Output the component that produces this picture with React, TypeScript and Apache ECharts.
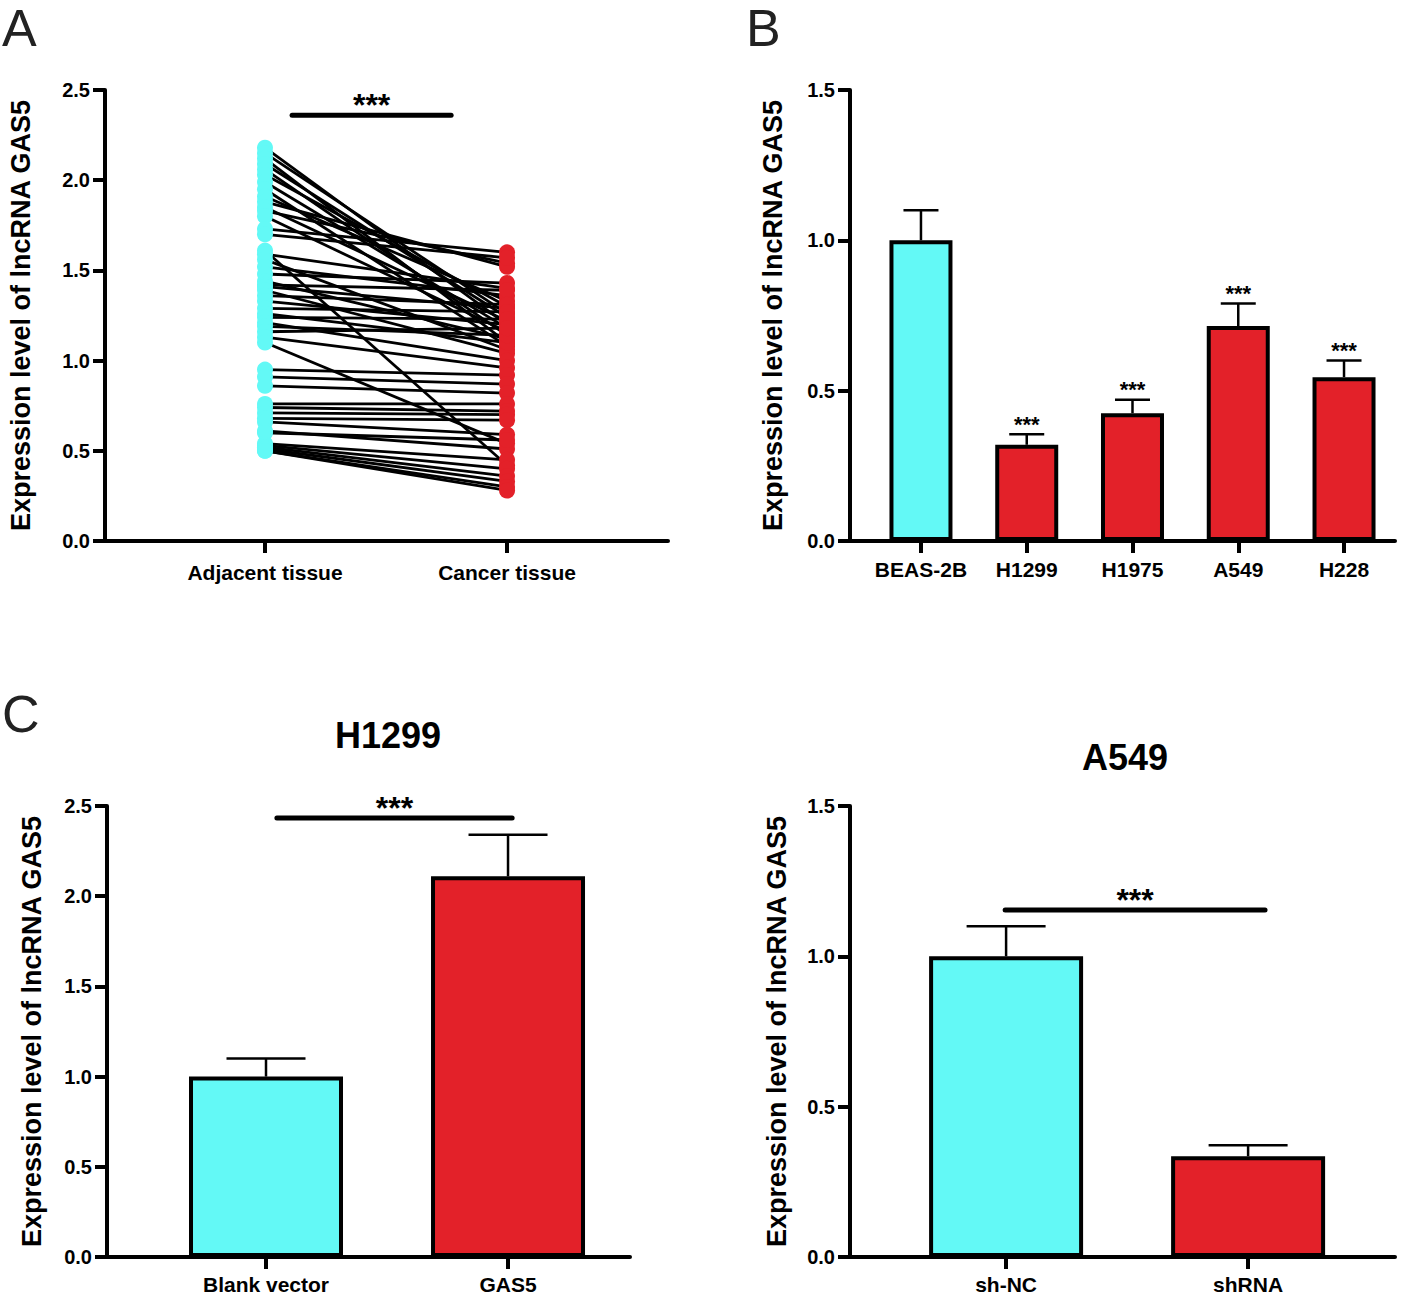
import React, { useEffect, useRef } from "react";
import * as echarts from "echarts";

// ---------- Panel A: paired tissue values ----------
const tissueCategories = ["Adjacent tissue", "Cancer tissue"];
const adjacentValues = [
  2.18, 2.15, 2.12, 2.09, 2.06, 2.03, 1.99, 1.95, 1.91, 1.88, 1.85, 1.83, 1.8,
  1.73, 1.7, 1.61, 1.59, 1.56, 1.52, 1.48, 1.44, 1.42, 1.41, 1.39, 1.36, 1.33,
  1.29, 1.26, 1.24, 1.21, 1.19, 1.16, 1.13, 1.1, 0.95, 0.91, 0.86, 0.76, 0.74,
  0.71, 0.68, 0.66, 0.61, 0.6, 0.54, 0.53, 0.52, 0.51, 0.5, 0.5,
];
const cancerValues = [
  1.2, 1.26, 1.1, 1.24, 1.14, 1.3, 1.18, 1.08, 1.33, 1.52, 1.22, 1.54, 1.16,
  1.6, 1.57, 0.42, 1.4, 1.06, 1.36, 1.43, 1.12, 1.39, 1.29, 1.04, 1.31, 1.2,
  1.27, 1.1, 1.23, 1.0, 1.14, 1.18, 0.96, 0.54, 0.92, 0.87, 0.82, 0.76, 0.72,
  0.7, 0.67, 0.59, 0.51, 0.56, 0.45, 0.4, 0.36, 0.33, 0.3, 0.28,
];

// ---------- Panel B: cell lines ----------
const cellLines = ["BEAS-2B", "H1299", "H1975", "A549", "H228"];
const cellMeans = [1.0, 0.32, 0.425, 0.715, 0.545];
const cellErrors = [0.1, 0.035, 0.045, 0.075, 0.055];
const cellStars = ["", "***", "***", "***", "***"];

// ---------- Panel C: H1299 ----------
const h1299Groups = ["Blank vector", "GAS5"];
const h1299Means = [1.0, 2.11];
const h1299Errors = [0.1, 0.23];

// ---------- Panel C: A549 ----------
const a549Groups = ["sh-NC", "shRNA"];
const a549Means = [1.0, 0.335];
const a549Errors = [0.1, 0.037];

const CYAN = "#63F9F6";
const RED = "#E32129";
const FONT = '"Liberation Sans", Arial, Helvetica, sans-serif';
const Y_TITLE = "Expression level of lncRNA GAS5";

function yAxis(gridIndex: number, max: number, gap: number) {
  return {
    type: "value",
    gridIndex,
    min: 0,
    max,
    interval: 0.5,
    name: Y_TITLE,
    nameLocation: "middle",
    nameGap: gap,
    nameTextStyle: { fontFamily: FONT, fontWeight: "bold", fontSize: 27, color: "#000" },
    axisLine: { show: true, onZero: false, lineStyle: { color: "#000", width: 4 } },
    axisTick: { show: true, length: 12, lineStyle: { color: "#000", width: 4 } },
    axisLabel: {
      margin: 15,
      color: "#000",
      fontFamily: FONT,
      fontWeight: "bold",
      fontSize: 20,
      formatter: (v: number) => v.toFixed(1),
    },
    splitLine: { show: false },
  };
}

function xAxis(gridIndex: number, min: number, max: number, cats: string[], margin: number) {
  const vals = cats.map((_, i) => i);
  return {
    type: "value",
    gridIndex,
    min,
    max,
    axisLine: { show: true, onZero: false, lineStyle: { color: "#000", width: 4 } },
    axisTick: { show: true, length: 12, customValues: vals, lineStyle: { color: "#000", width: 4 } },
    axisLabel: {
      customValues: vals,
      margin,
      color: "#000",
      fontFamily: FONT,
      fontWeight: "bold",
      fontSize: 21,
      formatter: (v: number) => cats[Math.round(v)] ?? "",
    },
    splitLine: { show: false },
  };
}

function barSeries(axisIndex: number, means: number[], width: number) {
  return {
    type: "bar",
    xAxisIndex: axisIndex,
    yAxisIndex: axisIndex,
    barWidth: width,
    z: 3,
    data: means.map((v, i) => ({
      value: [i, v],
      itemStyle: { color: i === 0 ? CYAN : RED, borderColor: "#000", borderWidth: 4 },
    })),
  };
}

function errorSeries(axisIndex: number, means: number[], errs: number[], capHalf: number, stars?: string[]) {
  return {
    type: "custom",
    xAxisIndex: axisIndex,
    yAxisIndex: axisIndex,
    z: 2,
    data: means.map((v, i) => [i, v, errs[i], i]),
    renderItem: (params: any, api: any) => {
      const x = api.value(0);
      const y = api.value(1);
      const e = api.value(2);
      const idx = api.value(3);
      const p0 = api.coord([x, y]);
      const p1 = api.coord([x, y + e]);
      const children: any[] = [
        { type: "line", shape: { x1: p0[0], y1: p0[1], x2: p1[0], y2: p1[1] }, style: { stroke: "#000", lineWidth: 2.5 } },
        { type: "line", shape: { x1: p1[0] - capHalf, y1: p1[1], x2: p1[0] + capHalf, y2: p1[1] }, style: { stroke: "#000", lineWidth: 2.5 } },
      ];
      if (stars && stars[idx]) {
        children.push({
          type: "text",
          x: p1[0],
          y: p1[1] + 1,
          style: { text: stars[idx], align: "center", verticalAlign: "bottom", font: `bold 22px ${FONT}`, fill: "#000" },
        });
      }
      return { type: "group", children };
    },
  };
}

function sigSeries(axisIndex: number, x1: number, x2: number, y: number, fontSize: number) {
  return {
    type: "custom",
    xAxisIndex: axisIndex,
    yAxisIndex: axisIndex,
    z: 5,
    data: [[x1, y, x2]],
    renderItem: (params: any, api: any) => {
      const a = api.coord([api.value(0), api.value(1)]);
      const b = api.coord([api.value(2), api.value(1)]);
      return {
        type: "group",
        children: [
          { type: "line", shape: { x1: a[0], y1: a[1], x2: b[0], y2: b[1] }, style: { stroke: "#000", lineWidth: 5, lineCap: "round" } },
          {
            type: "text",
            x: (a[0] + b[0]) / 2,
            y: a[1] + 6,
            style: { text: "***", align: "center", verticalAlign: "bottom", font: `bold ${fontSize}px ${FONT}`, fill: "#000" },
          },
        ],
      };
    },
  };
}

export default function App() {
  const ref = useRef<HTMLDivElement>(null);
  useEffect(() => {
    if (!ref.current) return;
    const chart = echarts.init(ref.current, undefined, { renderer: "svg" });
    const option: any = {
      animation: false,
      backgroundColor: "#fff",
      textStyle: { fontFamily: FONT },
      grid: [
        { left: 105, top: 90, width: 563, height: 451 },
        { left: 850, top: 90, width: 545, height: 451 },
        { left: 107, top: 806, width: 523, height: 451 },
        { left: 850, top: 806, width: 545, height: 451 },
      ],
      xAxis: [
        xAxis(0, -0.661, 1.665, tissueCategories, 21),
        xAxis(1, -0.671, 4.482, cellLines, 18),
        xAxis(2, -0.657, 1.504, h1299Groups, 17),
        xAxis(3, -0.645, 1.607, a549Groups, 17),
      ],
      yAxis: [
        yAxis(0, 2.5, 71),
        yAxis(1, 1.5, 64),
        yAxis(2, 2.5, 62),
        yAxis(3, 1.5, 60),
      ],
      graphic: [
        { type: "text", x: 2, y: 2, style: { text: "A", font: `52px ${FONT}`, fill: "#222", verticalAlign: "top" } },
        { type: "text", x: 746, y: 2, style: { text: "B", font: `52px ${FONT}`, fill: "#222", verticalAlign: "top" } },
        { type: "text", x: 2, y: 688, style: { text: "C", font: `52px ${FONT}`, fill: "#222", verticalAlign: "top" } },
        { type: "text", x: 388, y: 735, style: { text: "H1299", font: `bold 36px ${FONT}`, fill: "#000", align: "center", verticalAlign: "middle" } },
        { type: "text", x: 1125, y: 757, style: { text: "A549", font: `bold 36px ${FONT}`, fill: "#000", align: "center", verticalAlign: "middle" } },
      ],
      series: [
        {
          type: "custom",
          xAxisIndex: 0,
          yAxisIndex: 0,
          z: 2,
          data: adjacentValues.map((v, i) => [0, v, 1, cancerValues[i]]),
          renderItem: (params: any, api: any) => {
            const a = api.coord([api.value(0), api.value(1)]);
            const b = api.coord([api.value(2), api.value(3)]);
            return { type: "line", shape: { x1: a[0], y1: a[1], x2: b[0], y2: b[1] }, style: { stroke: "#000", lineWidth: 2.8 } };
          },
        },
        {
          type: "scatter",
          xAxisIndex: 0,
          yAxisIndex: 0,
          z: 3,
          symbolSize: 16,
          itemStyle: { color: CYAN, opacity: 1 },
          data: adjacentValues.map((v) => [0, v]),
        },
        {
          type: "scatter",
          xAxisIndex: 0,
          yAxisIndex: 0,
          z: 3,
          symbolSize: 16,
          itemStyle: { color: RED, opacity: 1 },
          data: cancerValues.map((v) => [1, v]),
        },
        sigSeries(0, 0.112, 0.769, 2.36, 32),
        barSeries(1, cellMeans, 63),
        errorSeries(1, cellMeans, cellErrors, 17.5, cellStars),
        barSeries(2, h1299Means, 154),
        errorSeries(2, h1299Means, h1299Errors, 39.5),
        sigSeries(2, 0.045, 1.017, 2.433, 32),
        barSeries(3, a549Means, 154),
        errorSeries(3, a549Means, a549Errors, 39.5),
        sigSeries(3, -0.004, 1.07, 1.154, 32),
      ],
    };
    chart.setOption(option);
    return () => chart.dispose();
  }, []);
  return (
    <div
      ref={ref}
      style={{ position: "absolute", left: 0, top: 0, width: 1418, height: 1295, background: "#fff" }}
    />
  );
}
